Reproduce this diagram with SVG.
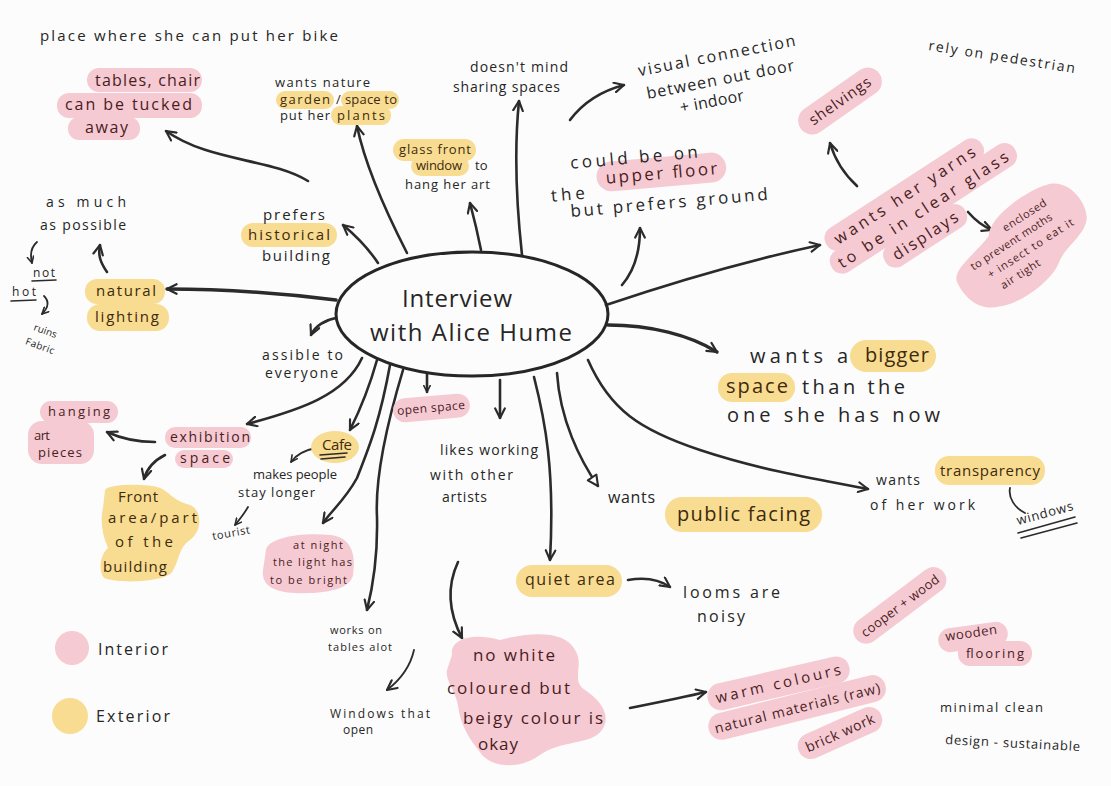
<svg xmlns="http://www.w3.org/2000/svg" width="1111" height="786" viewBox="0 0 1111 786">
<style>
text{font-family:"Open Sans","Liberation Sans",sans-serif;fill:#262626}
.pk{fill:#f5cad2}
.yl{fill:#f8dc92}
.tp{fill:#4a1c1e}
.ty{fill:#3e2a0c}
.ln{fill:none;stroke:#2b2b2b;stroke-width:2.6;stroke-linecap:round;stroke-linejoin:round}
.sm{fill:none;stroke:#2b2b2b;stroke-width:1.8;stroke-linecap:round}
.ul{fill:none;stroke:#2b2b2b;stroke-width:1.6;stroke-linecap:round}
</style>
<defs>
<marker id="ah" viewBox="0 0 10 10" refX="9" refY="5" markerWidth="12" markerHeight="12" markerUnits="userSpaceOnUse" orient="auto">
<path d="M1,1 L9,5 L1,9" fill="none" stroke="#2b2b2b" stroke-width="1.8" stroke-linecap="round" stroke-linejoin="round"/>
</marker>
<marker id="as" viewBox="0 0 10 10" refX="9" refY="5" markerWidth="8" markerHeight="8" markerUnits="userSpaceOnUse" orient="auto">
<path d="M1,1 L9,5 L1,9" fill="none" stroke="#2b2b2b" stroke-width="2" stroke-linecap="round" stroke-linejoin="round"/>
</marker>
<marker id="at" viewBox="0 0 10 10" refX="9" refY="5" markerWidth="13" markerHeight="13" markerUnits="userSpaceOnUse" orient="auto">
<path d="M1,1 L9,5 L1,9 Z" fill="#fff" stroke="#2b2b2b" stroke-width="1.6" stroke-linejoin="round"/>
</marker>
</defs>
<rect width="1111" height="786" fill="#fcfcfc"/>

<g id="connectors">
<path class="ln" marker-end="url(#ah)" d="M308,181 C270,158 210,162 166,131"/>
<path class="ln" marker-end="url(#ah)" d="M407,253 C385,210 365,165 357,126"/>
<path class="ln" marker-end="url(#ah)" d="M481,250 C478,235 474,218 470,203"/>
<path class="ln" marker-end="url(#ah)" d="M522,255 C516,200 514,150 519,101"/>
<path class="ln" marker-end="url(#ah)" d="M570,120 C585,100 605,90 624,85"/>
<path class="ln" marker-end="url(#ah)" d="M622,285 C635,270 640,250 640,228"/>
<path class="ln" marker-end="url(#ah)" d="M378,263 C368,248 355,235 343,225"/>
<path class="ln" marker-end="url(#ah)" d="M107,272 C100,262 98,255 100,245"/>
<path class="ln" style="stroke-width:3.4" marker-end="url(#ah)" d="M336,300 C280,293 220,289 167,289"/>
<path class="sm" marker-end="url(#as)" d="M37,242 C30,248 30,255 32,263"/>
<path class="sm" marker-end="url(#as)" d="M44,296 C50,302 48,308 42,314"/>
<path class="ln" marker-end="url(#ah)" d="M336,318 C325,320 315,326 311,335"/>
<path class="ln" marker-end="url(#ah)" d="M362,358 C345,395 300,410 247,424"/>
<path class="ln" marker-end="url(#ah)" d="M155,442 C135,442 120,438 107,432"/>
<path class="ln" marker-end="url(#ah)" d="M165,455 C155,460 147,468 144,479"/>
<path class="ln" marker-end="url(#ah)" d="M377,360 C370,385 360,410 350,430"/>
<path class="sm" marker-end="url(#as)" d="M316,448 C305,450 296,455 291,462"/>
<path class="sm" marker-end="url(#as)" d="M248,507 C244,514 240,519 235,525"/>
<path class="ln" marker-end="url(#ah)" d="M390,365 C380,420 370,445 357,478 C345,500 332,510 323,523"/>
<path class="ln" marker-end="url(#ah)" d="M403,370 C385,430 375,480 377,517 C378,560 372,590 367,610"/>
<path class="sm" marker-end="url(#ah)" d="M414,650 C410,668 400,680 387,690"/>
<path class="ln" marker-end="url(#ah)" d="M458,562 C445,590 450,615 462,638"/>
<path class="ln" marker-end="url(#as)" d="M427,374 L427,392"/>
<path class="ln" marker-end="url(#ah)" d="M500,380 L500,418"/>
<path class="ln" marker-end="url(#ah)" d="M534,377 C545,420 555,470 550,560"/>
<path class="ln" marker-end="url(#at)" d="M557,373 C560,420 580,460 598,486"/>
<path class="ln" marker-end="url(#ah)" d="M588,360 C610,410 640,430 700,450 C760,470 820,480 868,489"/>
<path class="ln" style="stroke-width:3.4" marker-end="url(#ah)" d="M608,325 C650,325 690,335 717,352"/>
<path class="ln" marker-end="url(#ah)" d="M606,305 C680,280 750,260 820,245"/>
<path class="ln" marker-end="url(#ah)" d="M857,186 C845,175 835,160 830,143"/>
<path class="ln" marker-end="url(#ah)" d="M968,212 C975,220 982,226 992,230"/>
<path class="sm" d="M1010,488 C1008,498 1015,508 1025,513"/>
<path class="ln" marker-end="url(#ah)" d="M628,580 C645,577 660,580 670,587"/>
<path class="ln" marker-end="url(#ah)" d="M630,708 C660,702 685,697 706,692"/>
</g>

<g id="center">
<ellipse cx="472" cy="314" rx="136" ry="62" fill="none" stroke="#262626" stroke-width="3"/>
<text x="402" y="307" font-size="24" textLength="110">Interview</text>
<text x="370" y="341" font-size="24" textLength="202">with Alice Hume</text>
</g>

<g id="n-bike"><text x="40" y="41" font-size="15" textLength="298">place where she can put her bike</text></g>

<g id="n-tables">
<rect class="pk" x="87" y="68" width="115" height="24" rx="12"/>
<rect class="pk" x="57" y="93" width="145" height="25" rx="12"/>
<rect class="pk" x="68" y="117" width="72" height="23" rx="11"/>
<text class="tp" x="95" y="86" font-size="16" textLength="105">tables, chair</text>
<text class="tp" x="65" y="110" font-size="16" textLength="127">can be tucked</text>
<text class="tp" x="85" y="133" font-size="16" textLength="43">away</text>
</g>

<g id="n-plants">
<rect class="yl" x="276" y="91" width="58" height="18" rx="9"/>
<rect class="yl" x="341" y="91" width="58" height="18" rx="9"/>
<rect class="yl" x="331" y="106" width="60" height="19" rx="9"/>
<text x="275" y="87" font-size="13" textLength="95">wants nature</text>
<text class="ty" x="280" y="104" font-size="13" textLength="50">garden</text>
<text x="336" y="104" font-size="13">/</text>
<text class="ty" x="345" y="104" font-size="13" textLength="52">space to</text>
<text x="280" y="120" font-size="13" textLength="50">put her</text>
<text class="ty" x="337" y="120" font-size="13" textLength="48">plants</text>
</g>

<g id="n-doesnt">
<text x="470" y="72" font-size="14" textLength="98">doesn't mind</text>
<text x="453" y="92" font-size="14" textLength="107">sharing spaces</text>
</g>

<g id="n-visual" transform="rotate(-11 640 70)">
<text x="638" y="76" font-size="16" textLength="160">visual connection</text>
<text x="642" y="100" font-size="16" textLength="150">between out door</text>
<text x="672" y="120" font-size="16" textLength="65">+ indoor</text>
</g>

<g id="n-rely"><text x="928" y="50" font-size="14" textLength="148" transform="rotate(9 928 50)">rely on pedestrian</text></g>

<g id="n-shelvings" transform="translate(840,101) rotate(-35)">
<rect class="pk" x="-48" y="-14" width="96" height="28" rx="14"/>
<text class="tp" x="-36" y="5" font-size="15" textLength="72">shelvings</text>
</g>

<g id="n-yarns" transform="translate(915,212) rotate(-33)">
<rect class="pk" x="-92" y="-33" width="185" height="25" rx="12"/>
<rect class="pk" x="-100" y="-11" width="218" height="25" rx="12"/>
<rect class="pk" x="-52" y="13" width="95" height="25" rx="12"/>
<text class="tp" x="-82" y="-14" font-size="16" textLength="165">wants her yarns</text>
<text class="tp" x="-92" y="8" font-size="16" textLength="200">to be in clear glass</text>
<text class="tp" x="-42" y="31" font-size="16" textLength="75">displays</text>
</g>

<g id="n-enclosed" transform="translate(1022,250) rotate(-33)">
<path class="pk" d="M-72,-8 C-70,-22 -40,-22 -20,-30 C-10,-46 40,-48 60,-40 C78,-32 80,-5 72,8 C62,22 40,20 25,30 C10,42 -30,45 -50,35 C-70,28 -74,8 -72,-8 Z"/>
<text class="tp" x="-4" y="-24" font-size="11" textLength="50">enclosed</text>
<text class="tp" x="-52" y="-9" font-size="11" textLength="95">to prevent moths</text>
<text class="tp" x="-42" y="7" font-size="11" textLength="100">+ insect to eat it</text>
<text class="tp" x="-37" y="23" font-size="11" textLength="45">air tight</text>
</g>

<g id="n-could" transform="rotate(-5 650 180)">
<rect class="pk" x="597" y="158" width="130" height="30" rx="15"/>
<text x="572" y="162" font-size="17" textLength="128">could be on</text>
<text x="550" y="193" font-size="17" textLength="34">the</text>
<text class="tp" x="606" y="180" font-size="17" textLength="112">upper floor</text>
<text x="568" y="210" font-size="17" textLength="198">but prefers ground</text>
</g>

<g id="n-glass">
<rect class="yl" x="393" y="139" width="83" height="22" rx="11"/>
<rect class="yl" x="411" y="156" width="58" height="20" rx="10"/>
<text class="ty" x="399" y="154" font-size="13" textLength="72">glass front</text>
<text class="ty" x="416" y="170" font-size="13" textLength="46">window</text>
<text x="475" y="170" font-size="13">to</text>
<text x="405" y="189" font-size="13" textLength="85">hang her art</text>
</g>

<g id="n-prefers">
<rect class="yl" x="241" y="223" width="96" height="24" rx="12"/>
<text x="263" y="220" font-size="15" textLength="62">prefers</text>
<text class="ty" x="248" y="240" font-size="15" textLength="82">historical</text>
<text x="262" y="261" font-size="15" textLength="68">building</text>
</g>

<g id="n-asmuch">
<text x="46" y="207" font-size="14" textLength="80">as much</text>
<text x="40" y="230" font-size="14" textLength="86">as possible</text>
</g>

<g id="n-nothot">
<text x="33" y="277" font-size="12" textLength="22">not</text>
<path class="ul" d="M32,281 L56,280"/>
<text x="12" y="296" font-size="12" textLength="24">hot</text>
<path class="ul" d="M11,301 L36,300"/>
<g transform="rotate(20 40 340)">
<text x="30" y="333" font-size="10" textLength="24">ruins</text>
<text x="27" y="349" font-size="10" textLength="30">Fabric</text>
</g>
</g>

<g id="n-natural">
<rect class="yl" x="85" y="279" width="80" height="25" rx="12"/>
<rect class="yl" x="87" y="304" width="82" height="27" rx="13"/>
<text class="ty" x="96" y="296" font-size="15" textLength="60">natural</text>
<text class="ty" x="95" y="322" font-size="15" textLength="64">lighting</text>
</g>

<g id="n-assible">
<text x="262" y="360" font-size="14" textLength="81">assible to</text>
<text x="265" y="378" font-size="14" textLength="73">everyone</text>
</g>

<g id="n-hanging">
<rect class="pk" x="40" y="401" width="78" height="22" rx="11"/>
<rect class="pk" x="28" y="421" width="66" height="43" rx="14"/>
<text class="tp" x="48" y="416" font-size="13" textLength="62">hanging</text>
<text class="tp" x="34" y="440" font-size="13" textLength="16">art</text>
<text class="tp" x="38" y="457" font-size="13" textLength="44">pieces</text>
</g>

<g id="n-exhibition">
<rect class="pk" x="165" y="427" width="86" height="21" rx="10"/>
<rect class="pk" x="175" y="450" width="58" height="18" rx="9"/>
<text class="tp" x="170" y="442" font-size="14" textLength="80">exhibition</text>
<text class="tp" x="180" y="463" font-size="14" textLength="50">space</text>
</g>

<g id="n-cafe">
<ellipse class="yl" cx="335" cy="447" rx="24" ry="16"/>
<text class="ty" x="322" y="450" font-size="15" textLength="30">Cafe</text>
<path class="ul" d="M320,455 L347,453 M321,459 L345,457"/>
</g>

<g id="n-makes">
<text x="253" y="479" font-size="13" textLength="84">makes people</text>
<text x="238" y="497" font-size="13" textLength="77">stay longer</text>
</g>

<g id="n-tourist"><text x="213" y="540" font-size="11" textLength="38" transform="rotate(-10 213 540)">tourist</text></g>

<g id="n-front">
<path class="yl" d="M105,490 C110,483 150,484 160,488 C170,492 172,500 190,505 C202,510 203,530 190,540 C178,548 180,560 172,572 C165,582 120,584 104,578 C98,570 100,555 108,548 C102,535 100,520 103,508 Z"/>
<text class="ty" x="118" y="502" font-size="15" textLength="40">Front</text>
<text class="ty" x="108" y="523" font-size="15" textLength="89">area/part</text>
<text class="ty" x="115" y="547" font-size="15" textLength="58">of the</text>
<text class="ty" x="103" y="572" font-size="15" textLength="64">building</text>
</g>

<g id="n-night">
<path class="pk" d="M266,550 C268,538 300,532 330,535 C352,537 356,555 353,575 C350,591 320,594 295,593 C275,592 261,586 263,570 Z"/>
<text class="tp" x="293" y="549" font-size="11" textLength="50">at night</text>
<text class="tp" x="273" y="566" font-size="11" textLength="79">the light has</text>
<text class="tp" x="270" y="584" font-size="11" textLength="77">to be bright</text>
</g>

<g id="n-open" transform="rotate(-5 431 408)">
<rect class="pk" x="393" y="396" width="77" height="24" rx="12"/>
<text class="tp" x="397" y="412" font-size="12" textLength="68">open space</text>
</g>

<g id="n-likes">
<text x="440" y="455" font-size="14" textLength="98">likes working</text>
<text x="430" y="480" font-size="14" textLength="83">with other</text>
<text x="442" y="502" font-size="14" textLength="45">artists</text>
</g>

<g id="n-public">
<rect class="yl" x="665" y="497" width="157" height="35" rx="17"/>
<text x="608" y="503" font-size="16" textLength="47">wants</text>
<text class="ty" x="677" y="521" font-size="20" textLength="133">public facing</text>
</g>

<g id="n-bigger">
<rect class="yl" x="850" y="340" width="86" height="32" rx="16"/>
<rect class="yl" x="718" y="373" width="77" height="29" rx="14"/>
<text x="750" y="363" font-size="20" textLength="98">wants a</text>
<text class="ty" x="865" y="362" font-size="20" textLength="64">bigger</text>
<text class="ty" x="726" y="393" font-size="20" textLength="62">space</text>
<text x="802" y="394" font-size="20" textLength="103">than the</text>
<text x="727" y="422" font-size="20" textLength="213">one she has now</text>
</g>

<g id="n-transparency">
<rect class="yl" x="935" y="456" width="110" height="29" rx="14"/>
<text x="876" y="485" font-size="14" textLength="44">wants</text>
<text class="ty" x="940" y="476" font-size="15" textLength="100">transparency</text>
<text x="870" y="510" font-size="14" textLength="105">of her work</text>
</g>

<g id="n-windows">
<text x="1018" y="525" font-size="13" textLength="58" transform="rotate(-15 1018 525)">windows</text>
<path class="ul" d="M1018,533 L1075,517 M1021,538 L1077,523"/>
</g>

<g id="n-quiet">
<rect class="yl" x="516" y="565" width="106" height="32" rx="16"/>
<text class="ty" x="525" y="585" font-size="16" textLength="90">quiet area</text>
</g>

<g id="n-looms">
<text x="683" y="598" font-size="16" textLength="97">looms are</text>
<text x="697" y="622" font-size="16" textLength="48">noisy</text>
</g>

<g id="n-works">
<text x="330" y="634" font-size="11" textLength="52">works on</text>
<text x="328" y="651" font-size="11" textLength="64">tables alot</text>
</g>

<g id="n-windowsopen">
<text x="330" y="718" font-size="12" textLength="100">Windows that</text>
<text x="343" y="734" font-size="12" textLength="30">open</text>
</g>

<g id="n-nowhite">
<path class="pk" d="M452,655 C450,640 470,632 500,640 C530,632 565,630 575,650 C585,665 570,680 585,690 C600,700 612,715 602,730 C592,745 560,740 540,755 C520,770 490,768 480,752 C470,740 460,725 458,705 C455,690 445,680 447,670 Z"/>
<text class="tp" x="473" y="661" font-size="17" textLength="82">no white</text>
<text class="tp" x="447" y="694" font-size="17" textLength="123">coloured but</text>
<text class="tp" x="463" y="724" font-size="17" textLength="140">beigy colour is</text>
<text class="tp" x="478" y="750" font-size="17" textLength="40">okay</text>
</g>

<g id="n-warm" transform="rotate(-13 778 683)">
<rect class="pk" x="706" y="670" width="145" height="27" rx="13"/>
<text class="tp" x="714" y="689" font-size="15" textLength="128">warm colours</text>
</g>
<g id="n-natmat" transform="rotate(-14 797 707)">
<rect class="pk" x="706" y="694" width="182" height="27" rx="13"/>
<text class="tp" x="712" y="713" font-size="14" textLength="170">natural materials (raw)</text>
</g>
<g id="n-brick" transform="rotate(-24 840 733)">
<rect class="pk" x="795" y="720" width="90" height="26" rx="13"/>
<text class="tp" x="803" y="738" font-size="14" textLength="74">brick work</text>
</g>
<g id="n-cooper" transform="rotate(-37 899 606)">
<rect class="pk" x="845" y="593" width="110" height="26" rx="13"/>
<text class="tp" x="853" y="611" font-size="13" textLength="94">cooper + wood</text>
</g>
<g id="n-wooden">
<rect class="pk" x="938" y="625" width="70" height="24" rx="12" transform="rotate(-8 973 637)"/>
<rect class="pk" x="958" y="641" width="74" height="25" rx="12"/>
<text class="tp" x="946" y="641" font-size="13" textLength="52" transform="rotate(-8 946 641)">wooden</text>
<text class="tp" x="966" y="658" font-size="13" textLength="58">flooring</text>
</g>

<g id="n-minimal">
<text x="940" y="712" font-size="13" textLength="103">minimal clean</text>
<text x="945" y="744" font-size="13" textLength="135" transform="rotate(3 945 744)">design - sustainable</text>
</g>

<g id="legend">
<circle class="pk" cx="72" cy="648" r="17"/>
<text x="98" y="655" font-size="16" textLength="70">Interior</text>
<circle class="yl" cx="70" cy="716" r="18"/>
<text x="96" y="722" font-size="16" textLength="74">Exterior</text>
</g>
</svg>
